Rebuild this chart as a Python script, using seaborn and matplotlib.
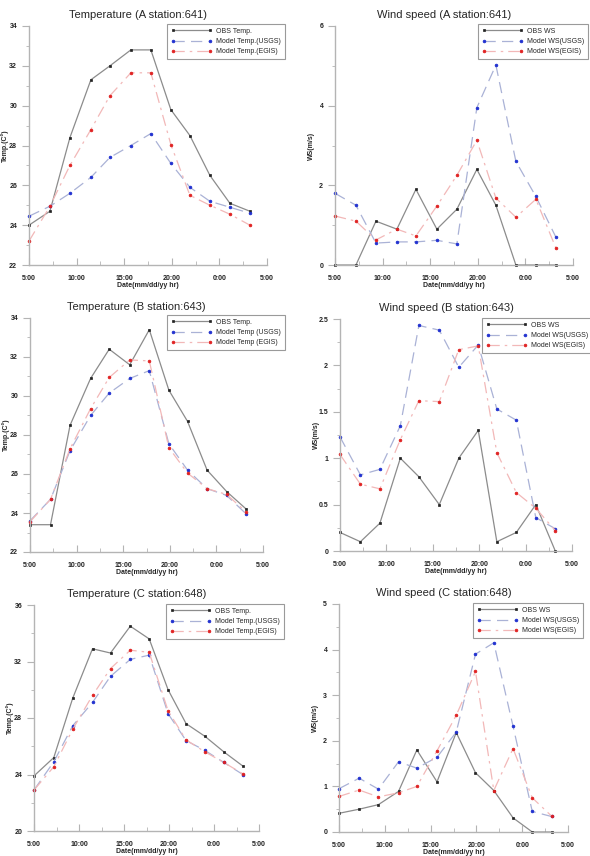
import numpy as np
import pandas as pd
import matplotlib.pyplot as plt
import seaborn as sns
from matplotlib.ticker import MultipleLocator, FuncFormatter

# horas de cada registro (0:00 del dia siguiente = 25)
hours = [5.0, 7.2, 9.3, 11.5, 13.5, 15.7, 17.8, 19.9, 21.9, 24.0, 26.1, 28.2]
xtick_pos = [5, 10, 15, 20, 25, 30]
xtick_labels = ['5:00', '10:00', '15:00', '20:00', '0:00', '5:00']

# Estacion A (641)
a_temp_obs = [24.0, 24.7, 28.4, 31.3, 32.0, 32.8, 32.8, 29.8, 28.5, 26.5, 25.1, 24.7]
a_temp_usgs = [24.45, 24.95, 25.6, 26.4, 27.4, 28.0, 28.6, 27.1, 25.9, 25.2, 24.9, 24.6]
a_temp_egis = [23.2, 24.95, 27.0, 28.8, 30.5, 31.65, 31.65, 28.05, 25.5, 25.0, 24.55, 24.0]
a_ws_obs = [0, 0, 1.1, 0.9, 1.9, 0.9, 1.4, 2.4, 1.5, 0, 0, 0]
a_ws_usgs = [1.8, 1.5, 0.55, 0.58, 0.58, 0.62, 0.53, 3.95, 5.02, 2.6, 1.72, 0.7]
a_ws_egis = [1.23, 1.1, 0.63, 0.9, 0.73, 1.48, 2.25, 3.13, 1.68, 1.2, 1.65, 0.43]

# Estacion B (643)
b_temp_obs = [23.4, 23.4, 28.5, 30.9, 32.4, 31.6, 33.4, 30.3, 28.7, 26.2, 25.1, 24.2]
b_temp_usgs = [23.6, 24.7, 27.2, 29.0, 30.15, 30.9, 31.3, 27.55, 26.2, 25.25, 24.9, 23.95]
b_temp_egis = [23.55, 24.7, 27.3, 29.35, 30.95, 31.85, 31.8, 27.35, 26.05, 25.25, 24.95, 24.05]
b_ws_obs = [0.2, 0.1, 0.3, 1.0, 0.8, 0.5, 1.0, 1.3, 0.1, 0.2, 0.5, 0.0]
b_ws_usgs = [1.23, 0.82, 0.88, 1.35, 2.43, 2.38, 1.98, 2.22, 1.53, 1.41, 0.36, 0.24]
b_ws_egis = [1.04, 0.72, 0.67, 1.2, 1.62, 1.61, 2.17, 2.21, 1.06, 0.63, 0.46, 0.22]

# Estacion C (648)
c_temp_obs = [23.9, 25.2, 29.4, 32.9, 32.6, 34.5, 33.6, 30.0, 27.6, 26.7, 25.6, 24.6]
c_temp_usgs = [22.9, 24.9, 27.45, 29.1, 30.95, 32.15, 32.45, 28.3, 26.4, 25.7, 24.85, 24.0]
c_temp_egis = [22.9, 24.55, 27.2, 29.6, 31.5, 32.8, 32.65, 28.5, 26.45, 25.6, 24.85, 24.05]
c_ws_obs = [0.41, 0.5, 0.6, 0.89, 1.8, 1.1, 2.18, 1.3, 0.91, 0.31, 0, 0]
c_ws_usgs = [0.95, 1.18, 0.94, 1.54, 1.4, 1.64, 2.19, 3.9, 4.15, 2.32, 0.45, 0.34]
c_ws_egis = [0.78, 0.92, 0.77, 0.86, 1.0, 1.78, 2.56, 3.52, 0.91, 1.83, 0.75, 0.35]

sns.set_style('ticks')
plt.rcParams['font.family'] = ['Liberation Sans', 'DejaVu Sans']

W, H = 590, 856
fig = plt.figure(figsize=(W / 100, H / 100), dpi=100)

AXIS_GRAY = '#b4b4b4'


def px_axes(left, right, top, bottom):
    return fig.add_axes([left / W, 1 - bottom / H, (right - left) / W, (bottom - top) / H])


def draw_panel(ax, obs, usgs, egis, labels, title, ylabel, ylim, major, minor, leg_xy):
    df = pd.DataFrame({'hour': hours, 'obs': obs, 'usgs': usgs, 'egis': egis})
    sns.lineplot(data=df, x='hour', y='obs', ax=ax, color='#8c8c8c', lw=0.9,
                 marker='s', markersize=2.0, markerfacecolor='#222222',
                 markeredgecolor='#222222', markeredgewidth=0.5, label=labels[0])
    sns.lineplot(data=df, x='hour', y='usgs', ax=ax, color='#aab2d6', lw=0.9,
                 linestyle=(0, (9, 5)), marker='o', markersize=2.0,
                 markerfacecolor='#1f2fd0', markeredgecolor='#1f2fd0',
                 markeredgewidth=0.5, label=labels[1])
    sns.lineplot(data=df, x='hour', y='egis', ax=ax, color='#f2b8b8', lw=0.9,
                 linestyle=(0, (9, 4, 2, 4)), marker='o', markersize=2.0,
                 markerfacecolor='#e02020', markeredgecolor='#e02020',
                 markeredgewidth=0.5, label=labels[2])

    ax.set_xlim(5, 30)
    ax.set_ylim(*ylim)
    ax.set_xticks(xtick_pos)
    ax.set_xticklabels(xtick_labels)
    ax.xaxis.set_minor_locator(MultipleLocator(2.5))
    ax.yaxis.set_major_locator(MultipleLocator(major))
    ax.yaxis.set_minor_locator(MultipleLocator(minor))
    ax.yaxis.set_major_formatter(FuncFormatter(lambda v, p: '%g' % v))

    for s in ['top', 'right']:
        ax.spines[s].set_visible(False)
    for s in ['left', 'bottom']:
        ax.spines[s].set_color(AXIS_GRAY)
        ax.spines[s].set_linewidth(1.0)

    ax.tick_params(axis='x', which='both', direction='in', colors=AXIS_GRAY,
                   labelcolor='#222222', pad=7)
    ax.tick_params(axis='x', which='major', length=5)
    ax.tick_params(axis='x', which='minor', length=3)
    ax.tick_params(axis='y', which='both', direction='out', colors=AXIS_GRAY,
                   labelcolor='#222222', pad=3.5)
    ax.tick_params(axis='y', which='major', length=5)
    ax.tick_params(axis='y', which='minor', length=2.5)
    for t in ax.get_xticklabels() + ax.get_yticklabels():
        t.set_fontsize(5)
        t.set_fontweight('bold')

    ax.set_xlabel('Date(mm/dd/yy hr)', fontsize=5, fontweight='bold', labelpad=0)
    ax.set_ylabel(ylabel, fontsize=5, fontweight='bold')
    width_px = ax.get_position().width * W
    ax.yaxis.set_label_coords(-20 / width_px, 0.5)
    ax.set_title(title, fontsize=8, x=0.458, pad=6)

    leg = ax.legend(loc='upper left', bbox_to_anchor=(leg_xy[0] / W, 1 - leg_xy[1] / H),
                    bbox_transform=fig.transFigure, borderaxespad=0, fontsize=5,
                    numpoints=2, handlelength=6.0, handletextpad=0.5, labelspacing=0.45,
                    fancybox=False, framealpha=1, edgecolor='#9a9a9a',
                    borderpad=0.55)
    leg.get_frame().set_linewidth(0.8)


temp_labels = ['OBS Temp.', 'Model Temp.(USGS)', 'Model Temp.(EGIS)']
temp_labels_b = ['OBS Temp.', 'Model Temp (USGS)', 'Model Temp (EGIS)']
ws_labels = ['OBS WS', 'Model WS(USGS)', 'Model WS(EGIS)']

ax1 = px_axes(29, 267, 26, 265)
draw_panel(ax1, a_temp_obs, a_temp_usgs, a_temp_egis, temp_labels,
           'Temperature (A station:641)', 'Temp.(C\u00b0)', (22, 34), 2, 1, (167, 24))
ax2 = px_axes(335, 573, 26, 265)
draw_panel(ax2, a_ws_obs, a_ws_usgs, a_ws_egis, ws_labels,
           'Wind speed (A station:641)', 'WS(m/s)', (0, 6), 2, 1, (478, 24))

ax3 = px_axes(30, 263, 318, 552)
draw_panel(ax3, b_temp_obs, b_temp_usgs, b_temp_egis, temp_labels_b,
           'Temperature (B station:643)', 'Temp.(C\u00b0)', (22, 34), 2, 1, (167, 315))
ax4 = px_axes(340, 572, 319, 551)
draw_panel(ax4, b_ws_obs, b_ws_usgs, b_ws_egis, ws_labels,
           'Wind speed (B station:643)', 'WS(m/s)', (0, 2.5), 0.5, 0.25, (482, 318))

ax5 = px_axes(34, 259, 605, 831)
draw_panel(ax5, c_temp_obs, c_temp_usgs, c_temp_egis, temp_labels,
           'Temperature (C station:648)', 'Temp.(C\u00b0)', (20, 36), 4, 2, (166, 604))
ax6 = px_axes(339, 568, 604, 832)
draw_panel(ax6, c_ws_obs, c_ws_usgs, c_ws_egis, ws_labels,
           'Wind speed (C station:648)', 'WS(m/s)', (0, 5), 1, 0.5, (473, 603))

for ax in [ax1, ax2, ax3, ax4, ax5, ax6]:
    for line in ax.get_lines():
        line.set_clip_on(False)

plt.savefig('out.png', dpi=100)
